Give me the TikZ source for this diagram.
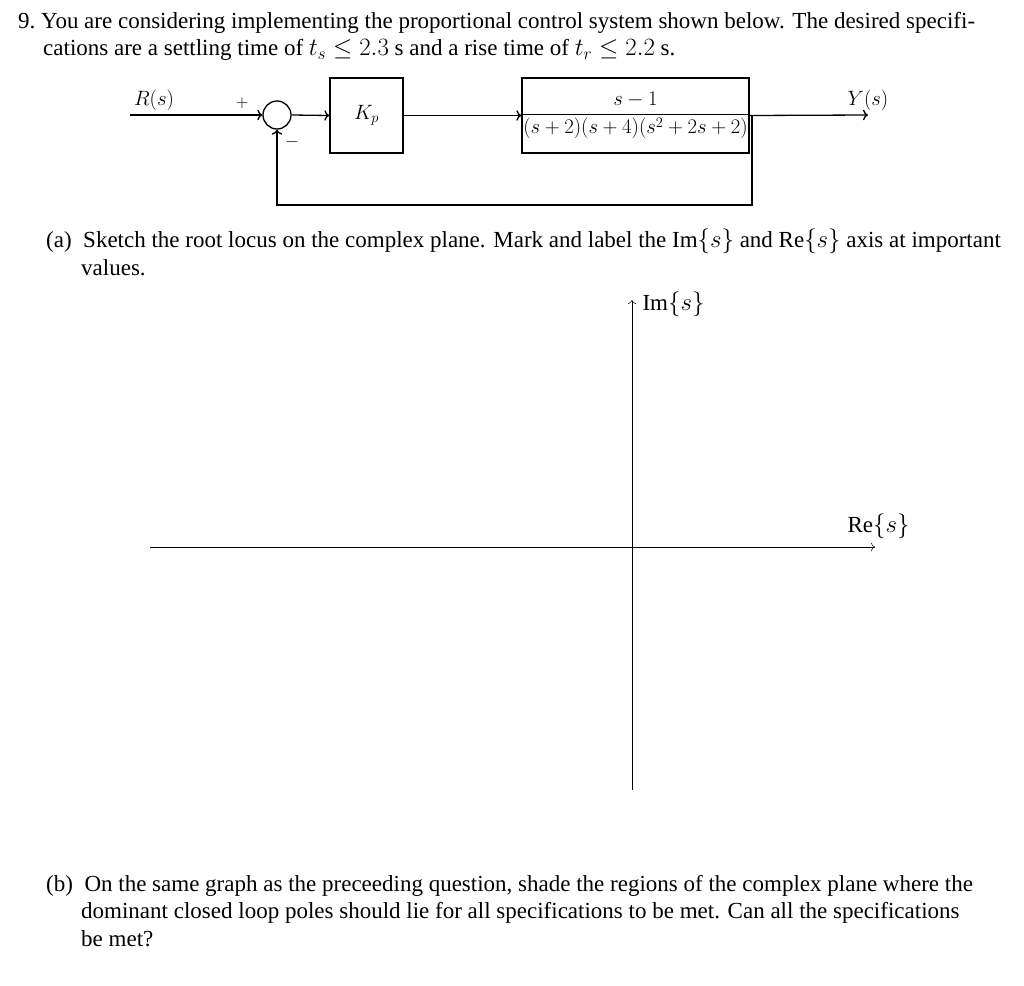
\documentclass[tikz,border=0pt]{standalone}
\usepackage{fontspec}
\setmainfont{Liberation Serif}
\usetikzlibrary{arrows.meta}
\begin{document}
\begin{tikzpicture}[x=1pt,y=-1pt,
  txt/.style={anchor=north west,inner sep=0pt,align=left,font=\fontsize{23}{27.5}\selectfont},
  lab/.style={font=\fontsize{22}{24}\selectfont},
  blk/.style={draw,line width=1.3pt,inner sep=0pt},
  sig/.style={line width=1.3pt,-{To[length=5pt]}},
  ax/.style={line width=0.5pt,-{To[length=4pt]}}]
\useasboundingbox (0,0) rectangle (1024,985);
\node[txt] (q) at (18,12) {9.\ You are considering implementing the proportional control system shown below. The desired specifi-\\\hspace*{25pt}cations are a settling time of $t_s\le 2.3$ s and a rise time of $t_r\le 2.2$ s.};
% block diagram
\coordinate (rin) at (130,115);
\node[draw,circle,line width=1.3pt,minimum size=28pt,inner sep=0pt] (sum) at (277,115) {};
\node[blk,minimum width=73pt,minimum height=75pt,lab] (kp) at (366.5,115.5) {$K_p$};
\node[blk,minimum width=225pt,minimum height=75pt,font=\fontsize{19.5}{22}\selectfont] (g) at (635.5,115.5) {$\displaystyle\frac{s-1}{(s+2)(s+4)(s^2+2s+2)}$};
\coordinate (yout) at (868,115);
\coordinate (br) at (752,115);
\node[lab] (rl) at (154,100) {$R(s)$};
\node[lab] (yl) at (868,100) {$Y(s)$};
\node[font=\fontsize{17}{18}\selectfont] (pl) at (242,103) {$+$};
\node[font=\fontsize{17}{18}\selectfont] (ml) at (292,142) {$-$};
\draw[sig] (rin) -- (sum.west);
\draw[sig] (sum.east) -- (kp.west);
\draw[sig] (kp.east) -- (g.west);
\draw[sig] (g.east) -- (yout);
\draw[sig] (br) -- (752,205) -| (sum.south);
% part a
\node[txt] (pa) at (46,229) {(a)\ \ Sketch the root locus on the complex plane. Mark and label the Im$\{s\}$ and Re$\{s\}$ axis at important\\\hspace*{35pt}values.};
\coordinate (xl) at (150,547);
\coordinate (xr) at (875,547);
\coordinate (yb) at (632,790);
\coordinate (yt) at (632,300);
\draw[ax] (xl) -- (xr);
\draw[ax] (yb) -- (yt);
\node[font=\fontsize{23}{24}\selectfont,anchor=west] (iml) at (639,304) {Im$\{s\}$};
\node[font=\fontsize{23}{24}\selectfont,anchor=east] (rel) at (913,526) {Re$\{s\}$};
% part b
\node[txt] (pb) at (46,875) {(b)\ \ On the same graph as the preceeding question, shade the regions of the complex plane where the\\\hspace*{35pt}dominant closed loop poles should lie for all specifications to be met. Can all the specifications\\\hspace*{35pt}be met?};
\end{tikzpicture}
\end{document}
